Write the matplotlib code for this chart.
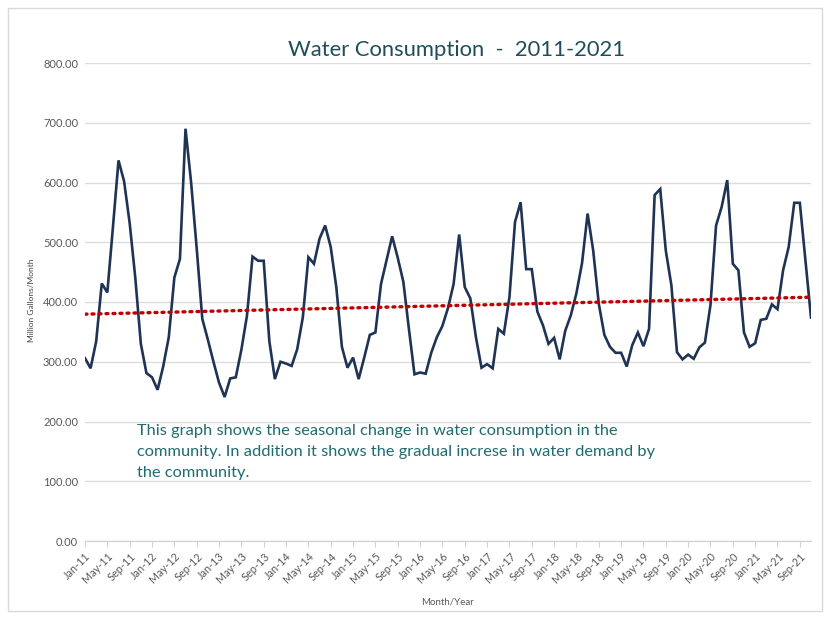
# water consumption 2011-2021, monthly, with linear trend
import numpy as np
import pandas as pd
import matplotlib.pyplot as plt
from matplotlib.patches import Rectangle

# ── data (million gallons / month) ─────────────────────────────────
consumption = [
    306, 289, 334, 431, 416, 525, 637, 602, 532, 441, 330, 281,   # 2011
    274, 253, 292, 341, 441, 472, 690, 600, 490, 372, 337, 300,   # 2012
    265, 241, 272, 274, 320, 377, 476, 469, 469, 335, 271, 300,   # 2013
    297, 293, 321, 374, 475, 464, 506, 528, 492, 425, 325, 290,   # 2014
    307, 271, 307, 345, 349, 430, 470, 510, 474, 434, 355, 279,   # 2015
    282, 280, 315, 341, 360, 390, 430, 513, 425, 406, 341, 290,   # 2016
    296, 289, 355, 347, 408, 534, 567, 455, 455, 384, 361, 330,   # 2017
    340, 304, 352, 378, 415, 465, 548, 486, 397, 345, 325, 315,   # 2018
    315, 292, 328, 349, 326, 355, 579, 589, 486, 428, 316, 304,   # 2019
    312, 305, 324, 332, 395, 528, 559, 604, 464, 453, 349, 325,   # 2020
    331, 370, 372, 396, 388, 453, 492, 566, 566, 470, 374,        # 2021
]
months = pd.date_range('2011-01-01', periods=len(consumption), freq='MS')
month_labels = [d.strftime('%b-%y') for d in months]
y_ticks = [0, 100, 200, 300, 400, 500, 600, 700, 800]

TITLE = 'Water Consumption  -  2011-2021'
NOTE = ('This graph shows the seasonal change in water consumption in the\n'
        'community. In addition it shows the gradual increse in water demand by\n'
        'the community.')

# ── figure ─────────────────────────────────────────────────────────
plt.rcParams['font.family'] = ['Lato', 'DejaVu Sans']
fig = plt.figure(figsize=(8.26, 6.17), dpi=100)
fig.patches.append(Rectangle((8 / 826, 6 / 617), 814 / 826, 603 / 617,
                             transform=fig.transFigure, fill=False,
                             edgecolor='#D9D9D9', linewidth=1))

ax = fig.add_axes([85 / 826, 76 / 617, 726 / 826, 478 / 617])

x = np.arange(len(consumption))
y = np.array(consumption, dtype=float)
ax.plot(x, y, color='#1F3354', linewidth=1.9, solid_joinstyle='miter', zorder=3)

# linear trend line like excel
slope, intercept = np.polyfit(x, y, 1)
ax.plot(x, slope * x + intercept, color='#C00000', linewidth=2.4,
        linestyle=(0, (0.6, 1.5)), dash_capstyle='round', zorder=4)

ax.set_xlim(0, len(consumption) - 1)
ax.set_ylim(0, 800)
ax.set_yticks(y_ticks)
ax.set_yticklabels([f'{v:.2f}' for v in y_ticks], fontsize=8, color='#595959')
ax.yaxis.grid(True, color='#DCDCDC', linewidth=1)
ax.set_axisbelow(True)

ax.set_xticks(x[::4])
ax.set_xticklabels(month_labels[::4], rotation=45, ha='right', va='top',
                   rotation_mode='anchor', fontsize=7.8, color='#595959')
ax.tick_params(axis='x', length=4, color='#D0D0D0', pad=3)
ax.tick_params(axis='y', length=0, pad=5)

for side in ['top', 'right', 'left']:
    ax.spines[side].set_visible(False)
ax.spines['bottom'].set_color('#D0D0D0')

ax.set_xlabel('Month/Year', fontsize=7, color='#595959', labelpad=9)
fig.text(32 / 826, 1 - 300 / 617, 'Million Gallons/Month', rotation=90,
         ha='center', va='center', fontsize=6, color='#404040')

fig.text(457 / 826, 1 - 50 / 617, TITLE, ha='center', va='center',
         fontsize=15.8, color='#1F4E5A')
fig.text(137 / 826, 1 - 452 / 617, NOTE, ha='left', va='center',
         fontsize=11.8, color='#1F6B70', linespacing=1.6)

plt.savefig('out.png', dpi=100)
plt.close()
